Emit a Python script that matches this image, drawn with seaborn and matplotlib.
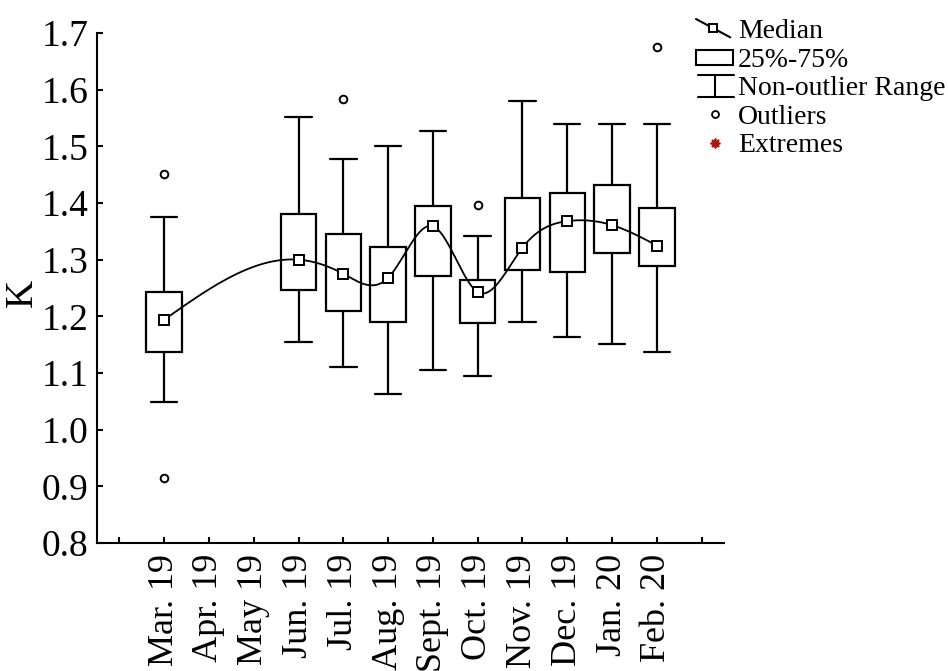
import numpy as np
import matplotlib
matplotlib.use("Agg")
import matplotlib.pyplot as plt
import seaborn as sns
from matplotlib.lines import Line2D
from matplotlib.patches import Rectangle
from matplotlib.legend_handler import HandlerBase

# ---------------- data ----------------
months = ['Mar. 19', 'Apr. 19', 'May 19', 'Jun. 19', 'Jul. 19', 'Aug. 19',
          'Sept. 19', 'Oct. 19', 'Nov. 19', 'Dec. 19', 'Jan. 20', 'Feb. 20']
median = [1.194, np.nan, np.nan, 1.300, 1.275, 1.268, 1.359, 1.243, 1.321, 1.368, 1.361, 1.325]
q1 = [1.137, np.nan, np.nan, 1.247, 1.209, 1.190, 1.271, 1.189, 1.282, 1.279, 1.311, 1.288]
q3 = [1.243, np.nan, np.nan, 1.381, 1.346, 1.322, 1.395, 1.265, 1.409, 1.417, 1.431, 1.391]
whisker_low = [1.049, np.nan, np.nan, 1.155, 1.110, 1.063, 1.106, 1.095, 1.190, 1.163, 1.152, 1.137]
whisker_high = [1.375, np.nan, np.nan, 1.551, 1.477, 1.501, 1.527, 1.342, 1.580, 1.540, 1.540, 1.540]
outliers = {'Mar. 19': [1.451, 0.914], 'Jul. 19': [1.583], 'Oct. 19': [1.396], 'Feb. 20': [1.676]}
tick_labels = [''] + months + ['']
y_ticks = [0.8, 0.9, 1.0, 1.1, 1.2, 1.3, 1.4, 1.5, 1.6, 1.7]

# ---------------- style ----------------
sns.set_theme(style="ticks")
plt.rcParams['font.family'] = ['Liberation Serif', 'DejaVu Serif']
plt.rcParams['axes.linewidth'] = 1.5
for key in ['text.color', 'axes.labelcolor', 'xtick.color', 'ytick.color',
            'xtick.labelcolor', 'ytick.labelcolor', 'axes.edgecolor']:
    plt.rcParams[key] = 'black'

fig = plt.figure(figsize=(9.48, 6.71), dpi=100)
ax = fig.add_axes([97 / 948, 128 / 671, (724 - 97) / 948, (543 - 33) / 671])

# ---------------- boxes ----------------
stats, positions = [], []
for i, m in enumerate(months):
    if np.isnan(median[i]):
        continue
    stats.append(dict(med=median[i], q1=q1[i], q3=q3[i],
                      whislo=whisker_low[i], whishi=whisker_high[i],
                      fliers=outliers.get(m, [])))
    positions.append(i + 1)

lw = 1.6
ax.bxp(stats, positions=positions, widths=0.79, capwidths=0.59,
       showfliers=True, patch_artist=True,
       boxprops=dict(facecolor='white', edgecolor='black', linewidth=lw),
       whiskerprops=dict(color='black', linewidth=lw),
       capprops=dict(color='black', linewidth=lw),
       medianprops=dict(linewidth=0, color='none'),
       flierprops=dict(marker='o', markersize=5.5, markerfacecolor='white',
                       markeredgecolor='black', markeredgewidth=1.4),
       zorder=2)

# ---------------- smooth median curve (natural cubic spline) ----------------
px = np.array(positions, dtype=float)
py = np.array([s['med'] for s in stats])


def natural_spline(x, y, xs):
    n = len(x)
    h = np.diff(x)
    A = np.zeros((n, n))
    b = np.zeros(n)
    A[0, 0] = 1
    A[-1, -1] = 1
    for i in range(1, n - 1):
        A[i, i - 1] = h[i - 1]
        A[i, i] = 2 * (h[i - 1] + h[i])
        A[i, i + 1] = h[i]
        b[i] = 3 * ((y[i + 1] - y[i]) / h[i] - (y[i] - y[i - 1]) / h[i - 1])
    c = np.linalg.solve(A, b)
    out = np.empty_like(xs)
    for k, xv in enumerate(xs):
        i = min(np.searchsorted(x, xv, side='right') - 1, n - 2)
        i = max(i, 0)
        bb = (y[i + 1] - y[i]) / h[i] - h[i] * (2 * c[i] + c[i + 1]) / 3
        d = (c[i + 1] - c[i]) / (3 * h[i])
        t = xv - x[i]
        out[k] = y[i] + bb * t + c[i] * t ** 2 + d * t ** 3
    return out


xs = np.linspace(px[0], px[-1], 400)
ys = natural_spline(px, py, xs)
sns.lineplot(x=xs, y=ys, ax=ax, color='black', linewidth=1.3, zorder=3,
             estimator=None, sort=False)
ax.plot(px, py, linestyle='none', marker='s', markersize=6.5,
        markerfacecolor='white', markeredgecolor='black', markeredgewidth=1.4, zorder=4)

# ---------------- axes ----------------
ax.set_xlim(-0.5, 13.5)
ax.set_ylim(0.8, 1.7)
ax.set_xticks(range(len(tick_labels)))
ax.set_xticklabels(tick_labels, rotation=90, fontsize=26)
ax.set_yticks(y_ticks)
ax.set_yticklabels([f"{v:.1f}" for v in y_ticks], fontsize=27)
ax.tick_params(direction='in', length=4, width=1.5, color='black', labelcolor='black')
ax.tick_params(axis='x', pad=8)
ax.tick_params(axis='y', pad=6)
ax.set_ylabel('K', fontsize=28, color='black')
ax.yaxis.set_label_coords(-0.09, 0.49)
ax.set_xlabel('')
for s in ['top', 'right']:
    ax.spines[s].set_visible(False)
for s in ['left', 'bottom']:
    ax.spines[s].set_color('black')
    ax.spines[s].set_linewidth(1.5)


# ---------------- legend ----------------
class HMedian(HandlerBase):
    def create_artists(self, legend, orig, xd, yd, w, h, fs, trans):
        x0, y0 = -xd, -yd
        ln = Line2D([x0, x0 + w * 0.9], [y0 + h * 0.95, y0 + h * 0.05], color='black',
                    lw=1.5, transform=trans)
        mk = Line2D([x0 + w * 0.45], [y0 + h * 0.5], marker='s', markersize=6,
                    mfc='white', mec='black', mew=1.4, transform=trans)
        return [ln, mk]


class HBox(HandlerBase):
    def create_artists(self, legend, orig, xd, yd, w, h, fs, trans):
        x0, y0 = -xd, -yd
        r = Rectangle((x0, y0 + h * 0.1), w * 0.97, h * 0.75, facecolor='white',
                      edgecolor='black', lw=1.5, transform=trans)
        return [r]


class HRange(HandlerBase):
    def create_artists(self, legend, orig, xd, yd, w, h, fs, trans):
        x0, y0 = -xd, -yd
        top, bot = y0 + h * 1.0, y0 - h * 0.05
        a = Line2D([x0 + w * 0.05, x0 + w], [top, top], color='black', lw=1.5, transform=trans)
        b = Line2D([x0 + w * 0.5, x0 + w * 0.5], [bot, top], color='black', lw=1.5, transform=trans)
        c = Line2D([x0 + w * 0.05, x0 + w], [bot, bot], color='black', lw=1.5, transform=trans)
        return [a, b, c]


class HMarker(HandlerBase):
    def __init__(self, marker, color, ms, mfc):
        super().__init__()
        self.marker, self.color, self.ms, self.mfc = marker, color, ms, mfc

    def create_artists(self, legend, orig, xd, yd, w, h, fs, trans):
        x0, y0 = -xd, -yd
        m = Line2D([x0 + w * 0.5], [y0 + h * 0.5], marker=self.marker, markersize=self.ms,
                   mfc=self.mfc, mec=self.color, mew=1.3, transform=trans)
        return [m]


legend_labels = ['Median', '25%-75%', 'Non-outlier Range', 'Outliers', 'Extremes']
handles = [Line2D([], []), Rectangle((0, 0), 1, 1), Line2D([], [], color='k'),
           Line2D([], [], marker='o'), Line2D([], [], marker='*')]
hmap = {handles[0]: HMedian(), handles[1]: HBox(), handles[2]: HRange(),
        handles[3]: HMarker('o', 'black', 5, 'white'),
        handles[4]: HMarker((8, 2, 0), '#b01010', 7, '#b01010')}
leg = fig.legend(handles, legend_labels, handler_map=hmap, loc='upper left',
                 bbox_to_anchor=(696 / 948, 1 - 18 / 671), frameon=False,
                 fontsize=20, handlelength=1.37, handleheight=0.75,
                 handletextpad=0.14, labelspacing=0.1, borderpad=0, borderaxespad=0,
                 labelcolor='black')

fig.savefig('out.png', dpi=100)
